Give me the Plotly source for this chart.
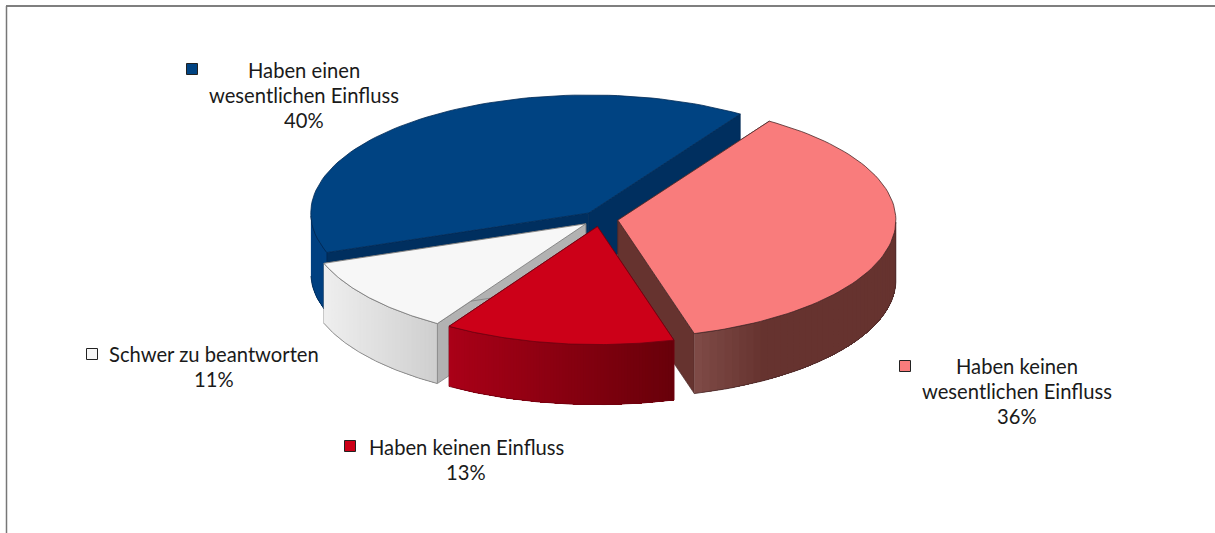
import plotly.graph_objects as go
import numpy as np

# clockwise from the top right edge of the pink slice
categories = ["Haben keinen<br>wesentlichen Einfluss", "Haben keinen Einfluss",
              "Schwer zu beantworten", "Haben einen<br>wesentlichen Einfluss"]
# slice sizes as drawn, printed labels are the rounded values
shares = [36.4, 13.4, 10.6, 39.6]
top_colors = ["#f97c7c", "#cc0018", "#f7f7f7", "#004382"]
wall_left = ["#7e4a46", "#aa0018", "#efefef", "#004080"]
wall_right = ["#66332f", "#68000a", "#cfcfcf", "#004080"]
face_colors = ["#66332f", "#68000a", "#b2b2b2", "#002f5f"]
edge_colors = ["#4a2a2a", "#700010", "#777777", "#002a55"]
label_x = [1017, 466, 214, 304]
label_y = [366, 447, 354, 70]
square_x = [905, 350, 92, 192]
square_y = [366, 446, 354, 69]

W, H = 1215, 533
CX, CY = 600, 219
A, B = 278, 118
DEPTH = 60
EXPLODE = 0.065
START = 57.0
LINE_GAP = 25

fig = go.Figure()


def poly(xs, ys, fill, line=None, width=1):
    fig.add_trace(go.Scatter(x=list(xs), y=list(ys), mode="lines", fill="toself", fillcolor=fill,
                             line=dict(color=line or fill, width=width), hoverinfo="skip"))


def mix(c1, c2, f):
    a = [int(c1[i:i + 2], 16) for i in (1, 3, 5)]
    b = [int(c2[i:i + 2], 16) for i in (1, 3, 5)]
    return "rgb(%d,%d,%d)" % tuple(a[i] + (b[i] - a[i]) * f for i in range(3))


# slice edges in degrees, going clockwise
edges = START - np.cumsum([0] + shares) * 3.6
slices = []
for i in range(len(shares)):
    t0, t1 = edges[i], edges[i + 1]
    mid = np.radians((t0 + t1) / 2)
    slices.append((i, t0, t1, CX + A * EXPLODE * np.cos(mid), CY - B * EXPLODE * np.sin(mid)))

# back to front
for i, t0, t1, ax, ay in [slices[3], slices[0], slices[2], slices[1]]:
    ts = np.radians(np.linspace(t0, t1, 80))
    rx = ax + A * np.cos(ts)
    ry = ay - B * np.sin(ts)

    # radial cut faces
    for k in (0, -1):
        poly([ax, rx[k], rx[k], ax, ax], [ay, ry[k], ry[k] + DEPTH, ay + DEPTH, ay],
             face_colors[i], edge_colors[i], 0.7)

    # outer wall, only the front half shows
    front = np.sin(ts) < 0
    fx, fy = rx[front], ry[front]
    if len(fx) > 1:
        order = np.argsort(fx)
        fx, fy = fx[order], fy[order]
        span = max(fx[-1] - fx[0], 1)
        for j in range(len(fx) - 1):
            c = mix(wall_left[i], wall_right[i], min(1, ((fx[j] - fx[0]) / span) * (3 if i == 0 else 1)))
            # each piece runs under the next one so no seams show
            e = len(fx)
            poly(list(fx[j:e]) + list(fx[j:e][::-1]), list(fy[j:e]) + list(fy[j:e][::-1] + DEPTH), c, c, 0)
        fig.add_trace(go.Scatter(x=list(fx) + list(fx[::-1]), y=list(fy + DEPTH) + list(fy[::-1]),
                                 mode="lines", line=dict(color=edge_colors[i], width=0.8), hoverinfo="skip"))

    # top of the slice
    poly([ax] + list(rx) + [ax], [ay] + list(ry) + [ay], top_colors[i], edge_colors[i], 0.8)

# legend squares
fig.add_trace(go.Scatter(x=square_x, y=square_y, mode="markers", hoverinfo="skip",
                         marker=dict(symbol="square", size=11, color=top_colors,
                                     line=dict(color="#222222", width=1))))

font = dict(family="Lato", size=20.2, color="#1a1a1a")
for name, share, x, y in zip(categories, shares, label_x, label_y):
    for n, line in enumerate(name.split("<br>") + [f"{round(share)}%"]):
        fig.add_annotation(x=x, y=y + n * LINE_GAP, xref="x", yref="y", text=line, showarrow=False,
                           font=font, align="center")

# frame of the picture
fig.add_shape(type="line", xref="x", yref="y", x0=6, y0=6, x1=W, y1=6, line=dict(color="#555555", width=1.5))
fig.add_shape(type="line", xref="x", yref="y", x0=6.5, y0=6, x1=6.5, y1=H, line=dict(color="#777777", width=1.5))

fig.update_layout(width=W, height=H, margin=dict(l=0, r=0, t=0, b=0), showlegend=False,
                  paper_bgcolor="white", plot_bgcolor="white",
                  xaxis=dict(range=[0, W], visible=False),
                  yaxis=dict(range=[H, 0], visible=False))

fig.write_html("out.html", config=dict(displayModeBar=False), post_script="document.body.style.margin='0';")
